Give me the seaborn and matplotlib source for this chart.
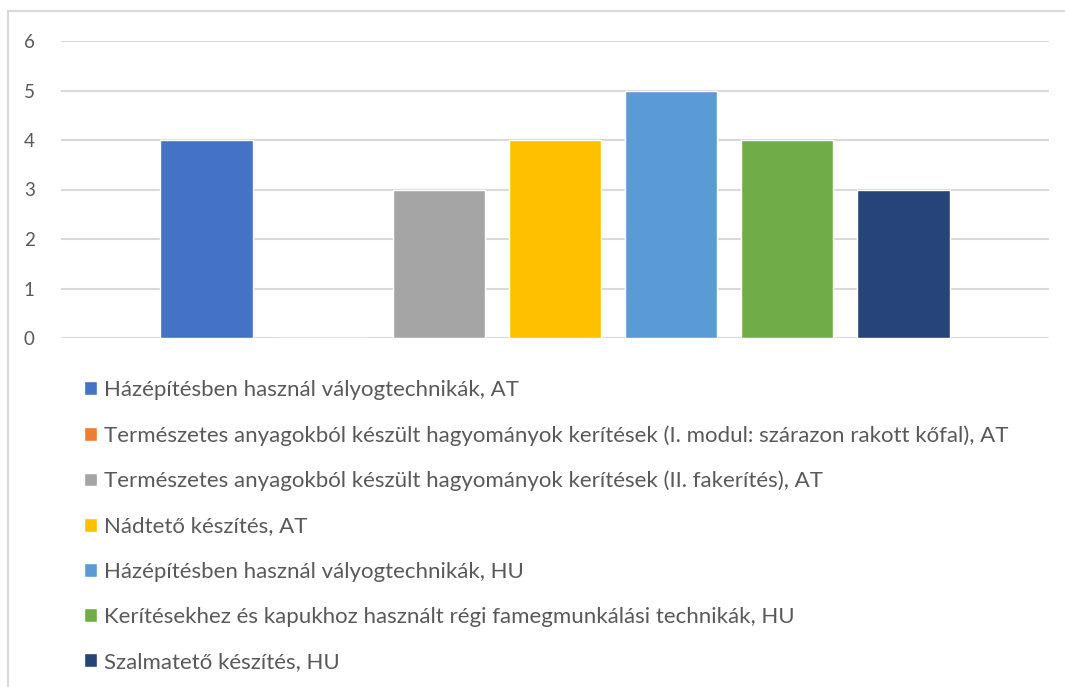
import pandas as pd
import matplotlib
matplotlib.use("Agg")
import matplotlib.pyplot as plt
import seaborn as sns
from matplotlib.patches import Rectangle

# data
series = [
    "Házépítésben használ vályogtechnikák, AT",
    "Természetes anyagokból készült hagyományok kerítések (I. modul: szárazon rakott kőfal), AT",
    "Természetes anyagokból készült hagyományok kerítések (II. fakerítés), AT",
    "Nádtető készítés, AT",
    "Házépítésben használ vályogtechnikák, HU",
    "Kerítésekhez és kapukhoz használt régi famegmunkálási technikák, HU",
    "Szalmatető készítés, HU",
]
values = [4, 0, 3, 4, 5, 4, 3]
colors = ["#4472C4", "#ED7D31", "#A5A5A5", "#FFC000", "#5B9BD5", "#70AD47", "#264478"]
yticks = [0, 1, 2, 3, 4, 5, 6]

sns.set_style("white")
plt.rcParams['font.family'] = ['Lato', 'DejaVu Sans']
txt = "#595959"

W, H = 1065, 687
fig = plt.figure(figsize=(W / 100, H / 100), dpi=100)
ax = fig.add_axes([61 / W, 1 - 338 / H, (1049 - 61) / W, (338 - 41) / H])

df = pd.DataFrame({"cat": [""] * len(series), "series": series, "value": values})
sns.barplot(data=df, x="cat", y="value", hue="series", hue_order=series,
            palette=colors, width=0.823, gap=0.207, saturation=1, ax=ax,
            errorbar=None)

ax.set_ylim(0, 6)
ax.set_xlim(-0.5, 0.5)
ax.set_yticks(yticks)
ax.yaxis.grid(True, color="#D9D9D9", linewidth=1.5)
ax.set_axisbelow(True)
for s in ax.spines.values():
    s.set_visible(False)
ax.set_xticks([])
ax.set_xlabel("")
ax.set_ylabel("")
ax.tick_params(axis="y", length=0, labelsize=13.5, labelcolor=txt, pad=19)

handles, labels = ax.get_legend_handles_labels()
ax.get_legend().remove()
leg = fig.legend(handles, labels, loc="upper left", bbox_to_anchor=(84 / W, 1 - 380 / H),
                 frameon=False, fontsize=16, handlelength=0.58, handleheight=0.58,
                 handletextpad=0.3, labelspacing=1.13, borderpad=0, borderaxespad=0)
for t in leg.get_texts():
    t.set_color(txt)

# chart area border
fig.patches.append(Rectangle((8 / W, -0.1), 1.2, 1.1 - 11 / H, transform=fig.transFigure,
                             fill=False, edgecolor="#D9D9D9", linewidth=1.5))

fig.savefig("out.png", dpi=100)
